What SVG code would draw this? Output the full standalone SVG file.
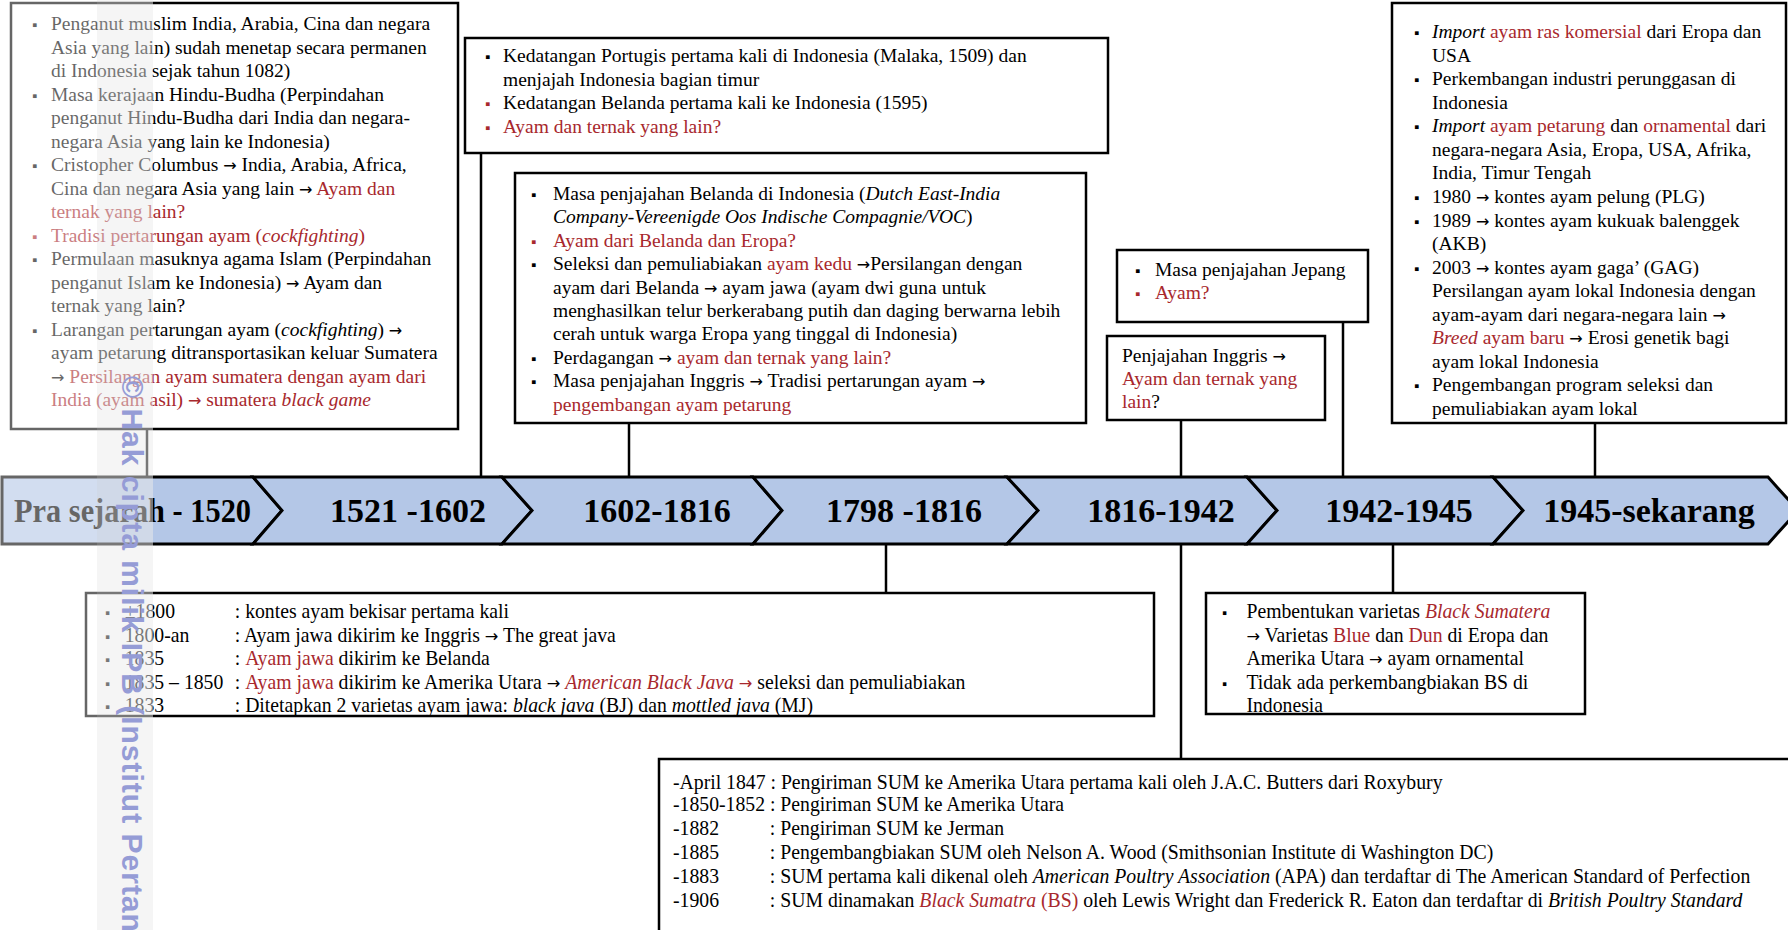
<svg xmlns="http://www.w3.org/2000/svg" width="1788" height="930" viewBox="0 0 1788 930">
<style>
.bg{fill:#fff}
.box{fill:#fff;stroke:#000;stroke-width:2.5}
.seg{fill:#b4c7e7;stroke:#000;stroke-width:3;stroke-linejoin:miter}
.cn{stroke:#000;stroke-width:2.5;fill:none}
.t{font-family:"Liberation Serif","Times New Roman",serif;font-size:19.5px;fill:#000}
.n{font-family:"Liberation Serif","Times New Roman",serif;font-size:21px;fill:#000}
.r{fill:#a8282d}
.i{font-style:italic}
.a{font-family:"DejaVu Sans",sans-serif;font-size:0.82em;font-style:normal}
.b{font-size:15px}
.yr{font-family:"Liberation Serif","Times New Roman",serif;font-size:34px;font-weight:bold;fill:#000;text-anchor:middle}
.wm{font-family:"Liberation Sans",Arial,sans-serif;font-size:30px;font-weight:bold;fill:#959cd6;letter-spacing:1px}
</style>
<rect class="bg" x="0" y="0" width="1788" height="930"/>

<g id="connectors">
<line class="cn" x1="147" y1="429" x2="147" y2="477"/>
<line class="cn" x1="481" y1="153" x2="481" y2="477"/>
<line class="cn" x1="629" y1="423" x2="629" y2="477"/>
<line class="cn" x1="886" y1="544" x2="886" y2="593"/>
<line class="cn" x1="1181" y1="420" x2="1181" y2="477"/>
<line class="cn" x1="1343" y1="322" x2="1343" y2="477"/>
<line class="cn" x1="1181" y1="544" x2="1181" y2="759"/>
<line class="cn" x1="1393" y1="544" x2="1393" y2="593"/>
<line class="cn" x1="1595" y1="423" x2="1595" y2="477"/>
</g>

<g id="timeline">
<polygon class="seg" points="2,477 253,477 282,510.5 253,544 2,544"/>
<polygon class="seg" points="253,477 502,477 532,510.5 502,544 253,544 282,510.5"/>
<polygon class="seg" points="502,477 753,477 782,510.5 753,544 502,544 532,510.5"/>
<polygon class="seg" points="753,477 1007,477 1038,510.5 1007,544 753,544 782,510.5"/>
<polygon class="seg" points="1007,477 1247,477 1277,510.5 1247,544 1007,544 1038,510.5"/>
<polygon class="seg" points="1247,477 1493,477 1523,510.5 1493,544 1247,544 1277,510.5"/>
<polygon class="seg" points="1493,477 1768,477 1798,510.5 1768,544 1493,544 1523,510.5"/>
<text class="yr" x="14" y="522" style="text-anchor:start" textLength="237" lengthAdjust="spacingAndGlyphs">Pra sejarah - 1520</text>
<text class="yr" x="408" y="522">1521 -1602</text>
<text class="yr" x="657" y="522">1602-1816</text>
<text class="yr" x="904" y="522">1798 -1816</text>
<text class="yr" x="1161" y="522">1816-1942</text>
<text class="yr" x="1399" y="522">1942-1945</text>
<text class="yr" x="1649" y="522">1945-sekarang</text>
</g>

<g id="box-prasejarah">
<rect class="box" x="11" y="3" width="447" height="426"/>
<text class="t" y="30"><tspan x="32" class="b">▪</tspan><tspan x="51">Penganut muslim India, Arabia, Cina dan negara</tspan></text>
<text class="t" x="51" y="53.5">Asia yang lain) sudah menetap secara permanen</text>
<text class="t" x="51" y="77">di Indonesia sejak tahun 1082)</text>
<text class="t" y="100.5"><tspan x="32" class="b">▪</tspan><tspan x="51">Masa kerajaan Hindu-Budha  (Perpindahan</tspan></text>
<text class="t" x="51" y="124">penganut Hindu-Budha  dari India dan negara-</text>
<text class="t" x="51" y="147.5">negara Asia yang lain  ke Indonesia)</text>
<text class="t" y="171"><tspan x="32" class="b">▪</tspan><tspan x="51">Cristopher Columbus <tspan class="a">→</tspan> India, Arabia, Africa,</tspan></text>
<text class="t" x="51" y="194.5">Cina dan negara Asia yang lain <tspan class="a">→</tspan> <tspan class="r">Ayam dan</tspan></text>
<text class="t r" x="51" y="218">ternak yang lain?</text>
<text class="t r" y="241.5"><tspan x="32" class="b">▪</tspan><tspan x="51">Tradisi pertarungan ayam (<tspan class="i">cockfighting</tspan>)</tspan></text>
<text class="t" y="265"><tspan x="32" class="b">▪</tspan><tspan x="51">Permulaan masuknya agama Islam (Perpindahan</tspan></text>
<text class="t" x="51" y="288.5">penganut Islam ke Indonesia) <tspan class="a">→</tspan> Ayam dan</text>
<text class="t" x="51" y="312">ternak yang lain?</text>
<text class="t" y="335.5"><tspan x="32" class="b">▪</tspan><tspan x="51">Larangan pertarungan ayam (<tspan class="i">cockfighting</tspan>) <tspan class="a">→</tspan></tspan></text>
<text class="t" x="51" y="359">ayam petarung ditransportasikan keluar Sumatera</text>
<text class="t" x="51" y="382.5"><tspan class="a">→</tspan> <tspan class="r">Persilangan ayam sumatera dengan ayam dari</tspan></text>
<text class="t r" x="51" y="406">India (ayam asil)  <tspan class="a">→</tspan> sumatera <tspan class="i">black game</tspan></text>
</g>

<g id="box-portugis">
<rect class="box" x="465" y="38" width="643" height="115"/>
<text class="t" y="62"><tspan x="485" class="b">▪</tspan><tspan x="503">Kedatangan Portugis pertama kali  di Indonesia (Malaka, 1509) dan</tspan></text>
<text class="t" x="503" y="85.5">menjajah Indonesia bagian timur</text>
<text class="t" y="109"><tspan x="485" class="b r">▪</tspan><tspan x="503">Kedatangan Belanda  pertama kali ke Indonesia (1595)</tspan></text>
<text class="t r" y="132.5"><tspan x="485" class="b">▪</tspan><tspan x="503">Ayam dan ternak yang lain?</tspan></text>
</g>

<g id="box-voc">
<rect class="box" x="515" y="173" width="571" height="250"/>
<text class="t" y="200"><tspan x="531" class="b">▪</tspan><tspan x="553">Masa penjajahan  Belanda  di Indonesia (<tspan class="i">Dutch East-India</tspan></tspan></text>
<text class="t" x="553" y="223.4"><tspan class="i">Company-Vereenigde Oos Indische Compagnie/VOC</tspan>)</text>
<text class="t r" y="246.8"><tspan x="531" class="b">▪</tspan><tspan x="553">Ayam dari Belanda  dan Eropa?</tspan></text>
<text class="t" y="270.2"><tspan x="531" class="b">▪</tspan><tspan x="553">Seleksi dan pemuliabiakan  <tspan class="r">ayam kedu</tspan> <tspan class="a">→</tspan>Persilangan  dengan</tspan></text>
<text class="t" x="553" y="293.6">ayam dari Belanda  <tspan class="a">→</tspan> ayam jawa (ayam dwi guna untuk</text>
<text class="t" x="553" y="317">menghasilkan  telur berkerabang putih  dan daging  berwarna lebih</text>
<text class="t" x="553" y="340.4">cerah untuk warga Eropa yang tinggal  di Indonesia)</text>
<text class="t" y="363.8"><tspan x="531" class="b">▪</tspan><tspan x="553">Perdagangan <tspan class="a">→</tspan> <tspan class="r">ayam dan ternak yang lain?</tspan></tspan></text>
<text class="t" y="387.2"><tspan x="531" class="b">▪</tspan><tspan x="553">Masa penjajahan  Inggris <tspan class="a">→</tspan> Tradisi pertarungan ayam <tspan class="a">→</tspan></tspan></text>
<text class="t r" x="553" y="410.6">pengembangan ayam petarung</text>
</g>

<g id="box-jepang">
<rect class="box" x="1117" y="250" width="251" height="72"/>
<text class="t" y="276"><tspan x="1135" class="b">▪</tspan><tspan x="1155">Masa penjajahan  Jepang</tspan></text>
<text class="t r" y="299"><tspan x="1135" class="b">▪</tspan><tspan x="1155">Ayam?</tspan></text>
</g>

<g id="box-inggris">
<rect class="box" x="1107" y="336" width="218" height="84"/>
<text class="t" x="1122" y="362">Penjajahan  Inggris <tspan class="a">→</tspan></text>
<text class="t r" x="1122" y="385">Ayam  dan ternak yang</text>
<text class="t" x="1122" y="408"><tspan class="r">lain</tspan>?</text>
</g>

<g id="box-1945">
<rect class="box" x="1392" y="3" width="394" height="420"/>
<text class="t" y="38"><tspan x="1414" class="b">▪</tspan><tspan x="1432"><tspan class="i">Import</tspan> <tspan class="r">ayam ras komersial</tspan> dari Eropa dan</tspan></text>
<text class="t" x="1432" y="61.6">USA</text>
<text class="t" y="85.1"><tspan x="1414" class="b">▪</tspan><tspan x="1432">Perkembangan industri  perunggasan di</tspan></text>
<text class="t" x="1432" y="108.7">Indonesia</text>
<text class="t" y="132.2"><tspan x="1414" class="b">▪</tspan><tspan x="1432"><tspan class="i">Import</tspan> <tspan class="r">ayam petarung</tspan> dan <tspan class="r">ornamental</tspan> dari</tspan></text>
<text class="t" x="1432" y="155.8">negara-negara Asia, Eropa, USA,  Afrika,</text>
<text class="t" x="1432" y="179.4">India, Timur Tengah</text>
<text class="t" y="202.9"><tspan x="1414" class="b">▪</tspan><tspan x="1432">1980 <tspan class="a">→</tspan> kontes ayam pelung  (PLG)</tspan></text>
<text class="t" y="226.5"><tspan x="1414" class="b">▪</tspan><tspan x="1432">1989 <tspan class="a">→</tspan> kontes ayam kukuak balenggek</tspan></text>
<text class="t" x="1432" y="250">(AKB)</text>
<text class="t" y="273.6"><tspan x="1414" class="b">▪</tspan><tspan x="1432">2003 <tspan class="a">→</tspan> kontes ayam gaga’ (GAG)</tspan></text>
<text class="t" x="1432" y="297.2">Persilangan  ayam lokal  Indonesia dengan</text>
<text class="t" x="1432" y="320.7">ayam-ayam dari negara-negara lain <tspan class="a">→</tspan></text>
<text class="t" x="1432" y="344.3"><tspan class="r"><tspan class="i">Breed</tspan> ayam baru</tspan> <tspan class="a">→</tspan> Erosi genetik bagi</text>
<text class="t" x="1432" y="367.8">ayam lokal Indonesia</text>
<text class="t" y="391.4"><tspan x="1414" class="b">▪</tspan><tspan x="1432">Pengembangan program seleksi dan</tspan></text>
<text class="t" x="1432" y="415">pemuliabiakan  ayam lokal</text>
</g>

<g id="box-jawa">
<rect class="box" x="86" y="593" width="1068" height="123"/>
<g transform="translate(105,0) scale(0.94,1)">
<text class="n" y="618"><tspan x="0" class="b">▪</tspan><tspan x="21">±1800</tspan><tspan x="138">: kontes ayam bekisar pertama kali</tspan></text>
<text class="n" y="641.6"><tspan x="0" class="b">▪</tspan><tspan x="21">1800-an</tspan><tspan x="138">: Ayam jawa dikirim ke Inggris <tspan class="a">→</tspan> The great java</tspan></text>
<text class="n" y="665.2"><tspan x="0" class="b">▪</tspan><tspan x="21">1835</tspan><tspan x="138">: <tspan class="r">Ayam jawa</tspan> dikirim ke Belanda</tspan></text>
<text class="n" y="688.8"><tspan x="0" class="b">▪</tspan><tspan x="21">1835 – 1850</tspan><tspan x="138">: <tspan class="r">Ayam jawa</tspan> dikirim ke Amerika Utara <tspan class="a">→</tspan> <tspan class="r"><tspan class="i">American Black Java</tspan> <tspan class="a">→</tspan></tspan> seleksi dan pemuliabiakan</tspan></text>
<text class="n" y="712.4"><tspan x="0" class="b">▪</tspan><tspan x="21">1833</tspan><tspan x="138">: Ditetapkan 2 varietas ayam jawa: <tspan class="i">black java</tspan> (BJ) dan <tspan class="i">mottled java</tspan> (MJ)</tspan></text>
</g>
</g>

<g id="box-blacksumatera">
<rect class="box" x="1206" y="593" width="379" height="121"/>
<g transform="translate(1222,0) scale(0.94,1)">
<text class="n" y="618"><tspan x="0" class="b">▪</tspan><tspan x="26">Pembentukan varietas <tspan class="r i">Black Sumatera</tspan></tspan></text>
<text class="n" x="26" y="641.6"><tspan class="a">→</tspan> Varietas <tspan class="r">Blue</tspan>  dan <tspan class="r">Dun</tspan> di Eropa dan</text>
<text class="n" x="26" y="665.2">Amerika Utara <tspan class="a">→</tspan> ayam ornamental</text>
<text class="n" y="688.8"><tspan x="0" class="b">▪</tspan><tspan x="26">Tidak ada perkembangbiakan BS di</tspan></text>
<text class="n" x="26" y="712.4">Indonesia</text>
</g>
</g>

<g id="box-sum">
<rect class="box" x="659" y="759" width="1200" height="300"/>
<g transform="translate(673,0) scale(0.94,1)">
<text class="n" x="0" y="789">-April 1847 : Pengiriman SUM ke Amerika Utara pertama kali oleh J.A.C. Butters dari Roxybury</text>
<text class="n" x="0" y="811">-1850-1852 :  Pengiriman SUM ke Amerika Utara</text>
<text class="n" y="835"><tspan x="0">-1882</tspan><tspan x="103">: Pengiriman SUM ke Jerman</tspan></text>
<text class="n" y="859"><tspan x="0">-1885</tspan><tspan x="103">: Pengembangbiakan SUM oleh Nelson A. Wood (Smithsonian Institute di Washington DC)</tspan></text>
<text class="n" y="883"><tspan x="0">-1883</tspan><tspan x="103">: SUM pertama kali dikenal  oleh <tspan class="i">American Poultry Association</tspan> (APA) dan terdaftar di The American  Standard of Perfection</tspan></text>
<text class="n" y="907"><tspan x="0">-1906</tspan><tspan x="103">: SUM dinamakan <tspan class="r"><tspan class="i">Black Sumatra</tspan> (BS)</tspan> oleh Lewis Wright dan Frederick R. Eaton dan terdaftar di <tspan class="i">British Poultry Standard</tspan></tspan></text>
</g>
</g>

<g id="watermark">
<rect x="0" y="0" width="153" height="930" fill="#fff" opacity="0.4"/>
<rect x="97" y="0" width="56" height="930" fill="#c8c8c8" opacity="0.18"/>
<text class="wm" transform="translate(122,376) rotate(90)">© Hak cipta milik IPB (Institut Pertan</text>
</g>
</svg>
